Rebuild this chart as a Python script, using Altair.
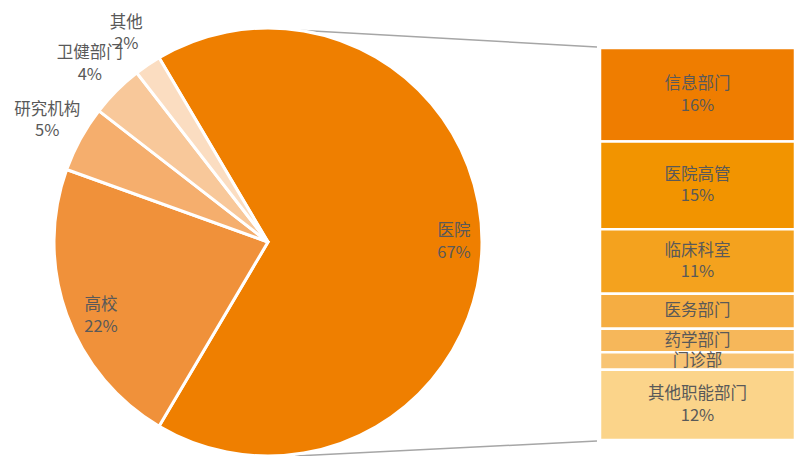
import altair as alt
import pandas as pd
import math

# Pie data
pie_names = ["医院", "高校", "研究机构", "卫健部门", "其他"]
pie_pct = [67, 22, 5, 4, 2]
pie_colors = ["#EF7F00", "#F0913A", "#F5AE6D", "#F8C89A", "#FBDDC1"]

# Bar (breakdown of 医院) data
bar_names = ["信息部门", "医院高管", "临床科室", "医务部门", "药学部门", "门诊部", "其他职能部门"]
bar_pct = [16, 15, 11, 6, 4, 3, 12]
bar_colors = ["#EF7D00", "#F29400", "#F4A21E", "#F5AD42", "#F6B75A", "#F8C474", "#FBD48A"]

pie_df = pd.DataFrame({"name": pie_names, "pct": pie_pct, "ord": range(len(pie_names))})
bar_df = pd.DataFrame({"name": bar_names, "pct": bar_pct, "ord": range(len(bar_names))})

start = -30.6 * math.pi / 180
CX, CY, R = 260, 234, 214
FONT = "Noto Sans CJK SC"
TXT = "#595959"
FS = 16.5
LH = 21.5

theta_scale = alt.Scale(domain=[0, sum(pie_pct)], range=[start, start + 2 * math.pi])
pie_color = alt.Color("name:N", scale=alt.Scale(domain=pie_names, range=pie_colors), legend=None)

pie_base = alt.Chart(pie_df).transform_window(
    cum="sum(pct)", sort=[alt.SortField("ord")]
).transform_calculate(
    t0="datum.cum - datum.pct",
    mid="datum.cum - datum.pct / 2",
    label="datum.name + '\\n' + datum.pct + '%'",
).encode(x=alt.value(CX), y=alt.value(CY))

pie = pie_base.mark_arc(outerRadius=R, stroke="white", strokeWidth=3).encode(
    theta=alt.Theta("t0:Q", scale=theta_scale, stack=None),
    theta2="cum:Q",
    color=pie_color,
)

def pie_labels(radius, cond, dx=0, dy=0):
    return pie_base.mark_text(
        radius=radius, font=FONT, fontSize=FS, color=TXT, lineBreak="\n", lineHeight=LH,
        align="center", baseline="middle", dx=dx, dy=dy - LH / 2
    ).encode(
        theta=alt.Theta("mid:Q", scale=theta_scale, stack=None),
        text="label:N",
    ).transform_filter(cond)

label_main = pie_labels(186, "datum.name == '医院'")
label_second = pie_labels(186, "datum.name == '高校'", dx=8, dy=11)
outer_labels = pie_labels(252, "datum.pct < 10")

yscale = alt.Scale(domain=[0, sum(bar_pct)], range=[40, 432])

bar_base = alt.Chart(bar_df).transform_window(
    cum="sum(pct)", sort=[alt.SortField("ord")]
).transform_calculate(
    y0="datum.cum - datum.pct",
    mid="datum.cum - datum.pct / 2",
    label="datum.pct >= 10 ? datum.name + '\\n' + datum.pct + '%' : datum.name",
)

bars = bar_base.mark_rect(stroke="white", strokeWidth=2.5).encode(
    x=alt.value(592), x2=alt.value(787),
    y=alt.Y("y0:Q", scale=yscale, axis=None),
    y2="cum:Q",
    color=alt.Color("name:N", scale=alt.Scale(domain=bar_names, range=bar_colors), legend=None),
)

def bar_labels(cond, dy):
    return bar_base.mark_text(
        font=FONT, fontSize=FS, color=TXT, lineBreak="\n", lineHeight=LH,
        align="center", baseline="middle", dy=dy
    ).encode(
        x=alt.value(689.5),
        y=alt.Y("mid:Q", scale=yscale, axis=None),
        text="label:N",
    ).transform_filter(cond)

bar_labels2 = bar_labels("datum.pct >= 10", -LH / 2)
bar_labels1 = bar_labels("datum.pct < 10", 0)

line_df = pd.DataFrame({"k": [0]})
top_line = alt.Chart(line_df).mark_rule(color="#A6A6A6", strokeWidth=1.5).encode(
    x=alt.value(287), y=alt.value(22), x2=alt.value(589), y2=alt.value(39)
)
bot_line = alt.Chart(line_df).mark_rule(color="#A6A6A6", strokeWidth=1.5).encode(
    x=alt.value(287), y=alt.value(448), x2=alt.value(589), y2=alt.value(433)
)

chart = alt.layer(
    top_line, bot_line, pie, label_main, label_second, outer_labels,
    bars, bar_labels2, bar_labels1
).resolve_scale(color="independent").properties(
    width=789, height=448, padding=0, autosize=alt.AutoSizeParams(type="none")
).configure_view(stroke=None)

chart.save("out.html", embed_options={"renderer": "svg", "actions": False})
